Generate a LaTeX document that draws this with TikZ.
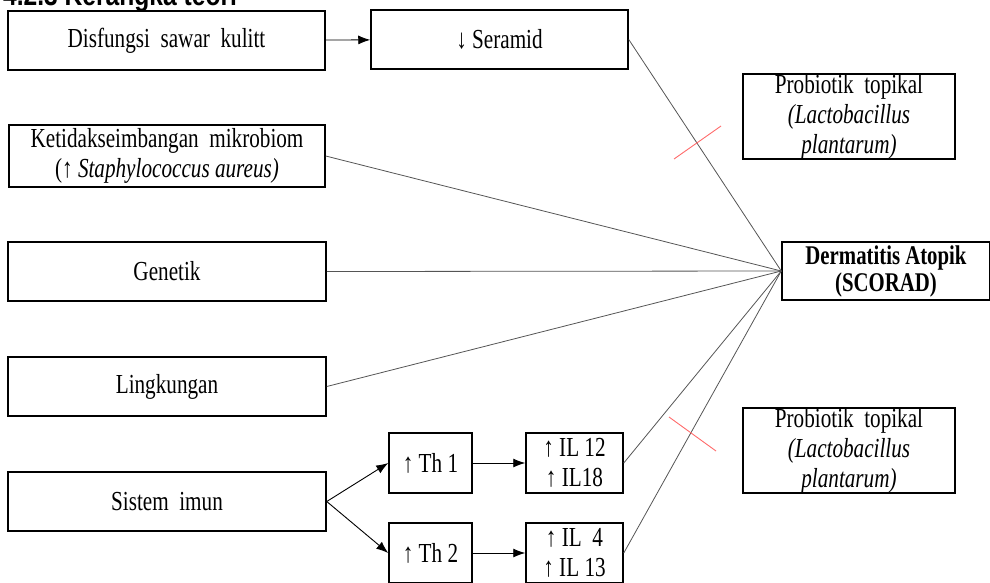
\documentclass[tikz,border=0pt]{standalone}
\usepackage{fontspec}
\setmainfont{Liberation Serif}[FakeStretch=0.77]
\newfontfamily\headfont{Liberation Sans}[FakeStretch=0.82]
\usetikzlibrary{arrows.meta,positioning}

\gdef\Bfill{white}
\definecolor{linkgray}{HTML}{555555}
\definecolor{markred}{HTML}{FF6A6A}

\tikzset{
  factor/.style={draw, line width=1.5pt, fill=\Bfill, inner sep=0pt, align=center,
    font=\fontsize{27.5}{30}\selectfont},
  link/.style={draw=linkgray, line width=0.8pt},
  push/.style={draw, line width=0.9pt, -{Latex[length=12pt,width=9pt]}},
  cut/.style={draw=markred, line width=0.9pt}
}

\begin{document}
\begin{tikzpicture}[x=1pt, y=-1pt]
\useasboundingbox (0,0) rectangle (990,582);
\node[anchor=base west, inner sep=0pt, font=\headfont\bfseries\fontsize{30}{34}\selectfont] (head) at (3,5) {4.2.3 Kerangka teori};

\node[factor, minimum width=317pt, minimum height=59pt] (dis) at (166.5,40.5) {Disfungsi\ \ sawar\ \ kulitt};
\node[factor, minimum width=257pt, minimum height=59pt] (ser) at (499.5,39.5) {↓ Seramid};
\node[factor, minimum width=316pt, minimum height=62pt] (ket) at (167,156) {Ketidakseimbangan\ \ mikrobiom\\(↑ \textit{Staphylococcus aureus)}};
\node[factor, minimum width=318pt, minimum height=59pt] (gen) at (167,271.5) {Genetik};
\node[factor, minimum width=318pt, minimum height=59pt] (ling) at (167,386.5) {Lingkungan};
\node[factor, minimum width=318pt, minimum height=59pt] (imun) at (167,501.5) {Sistem\ \ imun};
\node[factor, minimum width=83pt, minimum height=60pt] (th1) at (430.5,463) {↑ Th 1};
\node[factor, minimum width=83pt, minimum height=60pt] (th2) at (430.5,553) {↑ Th 2};
\node[factor, minimum width=97pt, minimum height=60pt] (il12) at (574.5,463) {↑ IL 12\\↑ IL18};
\node[factor, minimum width=97pt, minimum height=60pt] (il4) at (574.5,553) {↑ IL\ \ 4\\↑ IL 13};
\node[factor, minimum width=208pt, minimum height=58pt, font=\bfseries\fontsize{27}{27}\selectfont] (derm) at (886,271) {Dermatitis Atopik\\(SCORAD)};
\node[factor, minimum width=212pt, minimum height=85pt, font=\fontsize{27.5}{30}\selectfont] (prob1) at (849,116.5) {Probiotik\ \ topikal\\\textit{(Lactobacillus}\\\textit{plantarum)}};
\node[factor, minimum width=212pt, minimum height=85pt, font=\fontsize{27.5}{30}\selectfont] (prob2) at (849,450.5) {Probiotik\ \ topikal\\\textit{(Lactobacillus}\\\textit{plantarum)}};

% arrows
\draw[push] (dis) -- (ser);
\draw[push] (imun.east) -- (th1.west);
\draw[push] (imun.east) -- (th2.west);
\draw[push] (th1) -- (il12);
\draw[push] (th2) -- (il4);

% lines into the outcome
\foreach \src in {ser, ket, gen, ling, il12, il4}
  \draw[link] (\src.east) -- (derm.west);

% red cut marks
\draw[cut] (674,159) -- (721,126);
\draw[cut] (669,417) -- (716,451);
\end{tikzpicture}
\end{document}
